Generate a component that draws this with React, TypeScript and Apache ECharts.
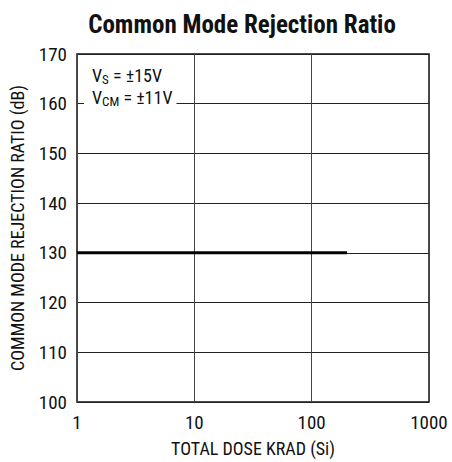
import React, { useEffect, useRef } from "react";
import * as echarts from "echarts";

const FONT = "'Roboto Condensed', 'Liberation Sans', sans-serif";

const doseKrad = [1, 200];
const cmrrDb = [130, 130];
const yTicks = { min: 100, max: 170, interval: 10 };
const xRange = { min: 1, max: 1000 };

export default function App() {
  const ref = useRef<HTMLDivElement>(null);
  useEffect(() => {
    const chart = echarts.init(ref.current!, null, { renderer: "svg" });
    chart.setOption({
      animation: false,
      backgroundColor: "#fff",
      title: {
        text: "Common Mode Rejection Ratio",
        left: 237,
        textAlign: "center",
        top: 7,
        textStyle: { fontFamily: FONT, fontWeight: "bold", fontSize: 25, color: "#111" },
      },
      grid: { left: 77, right: 23, top: 54, bottom: 56, show: true, borderColor: "#111", borderWidth: 1.5 },
      xAxis: {
        type: "log",
        logBase: 10,
        min: xRange.min,
        max: xRange.max,
        name: "TOTAL DOSE KRAD (Si)",
        nameLocation: "middle",
        nameGap: 37,
        nameTextStyle: { fontFamily: FONT, fontSize: 18, color: "#111" },
        axisLine: { show: false },
        axisTick: { show: false },
        axisLabel: { fontFamily: FONT, fontSize: 19, color: "#111", margin: 11, formatter: (v: number) => String(v) },
        splitLine: { show: true, lineStyle: { color: "#444", width: 1 } },
        minorTick: { show: false },
      },
      yAxis: {
        type: "value",
        min: yTicks.min,
        max: yTicks.max,
        interval: yTicks.interval,
        name: "COMMON MODE REJECTION RATIO (dB)",
        nameLocation: "middle",
        nameGap: 51,
        nameTextStyle: { fontFamily: FONT, fontSize: 18, color: "#111" },
        axisLine: { show: false },
        axisTick: { show: false },
        axisLabel: { fontFamily: FONT, fontSize: 19, color: "#111", margin: 10 },
        splitLine: { show: true, lineStyle: { color: "#222", width: 1 } },
      },
      series: [
        {
          type: "line",
          data: doseKrad.map((x, i) => [x, cmrrDb[i]]),
          showSymbol: false,
          lineStyle: { color: "#000", width: 3 },
          z: 5,
        },
      ],
      graphic: [
        {
          type: "text",
          left: 84,
          top: 62,
          z: 10,
          style: {
            text: "{v|V}{sub|S}{v| = ±15V}\n{v|V}{sub|CM}{v| = ±11V}",
            backgroundColor: "#fff",
            padding: [2, 4, 6, 8],
            rich: {
              v: { fontFamily: FONT, fontSize: 18, lineHeight: 22, fill: "#111", verticalAlign: "middle" },
              sub: { fontFamily: FONT, fontSize: 13, lineHeight: 22, fill: "#111", verticalAlign: "bottom", padding: [8, 0, 0, 0] },
            },
          },
        },
      ],
    });
    return () => chart.dispose();
  }, []);
  return <div ref={ref} style={{ position: "fixed", left: 0, top: 0, width: 452, height: 462 }} />;
}
